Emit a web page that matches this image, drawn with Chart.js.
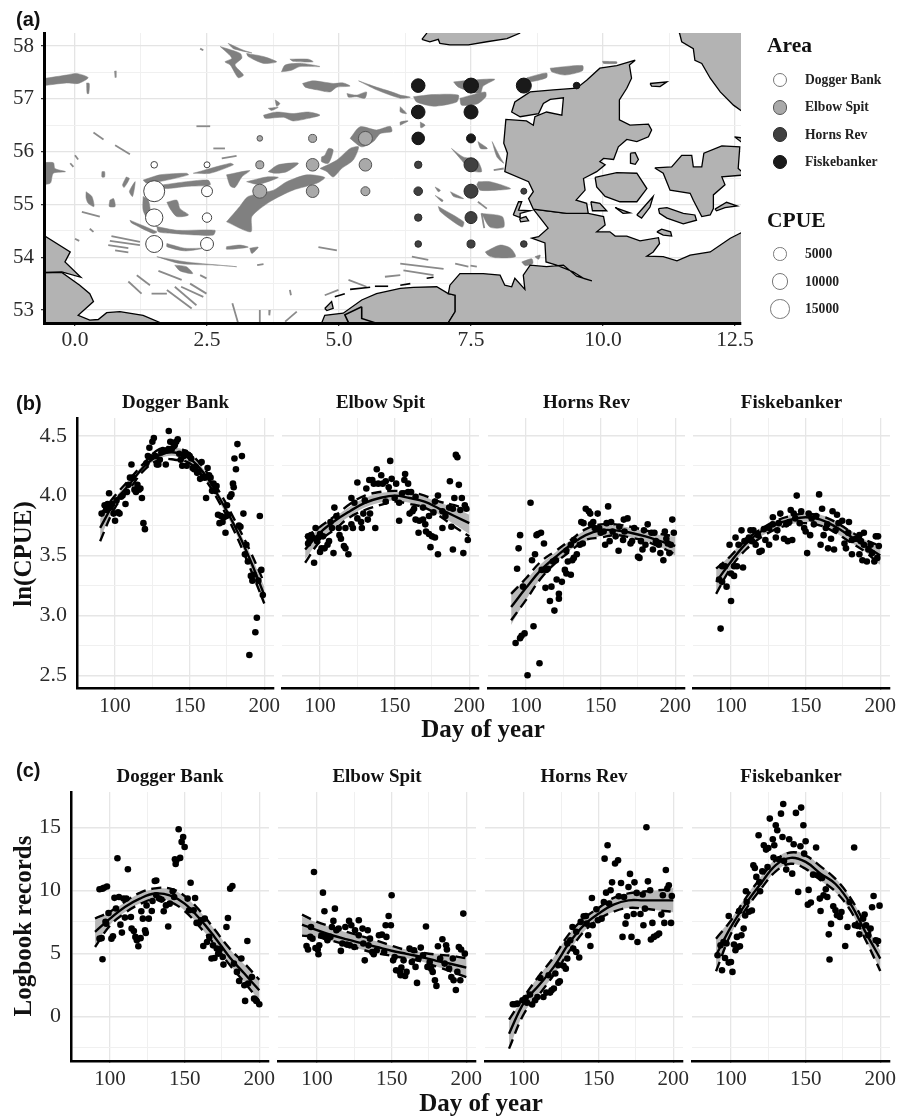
<!DOCTYPE html>
<html>
<head>
<meta charset="utf-8">
<title>CPUE by area</title>
<script src="https://cdn.jsdelivr.net/npm/chart.js@4"></script>
<style>
  html, body { margin: 0; background: #fff; }
  #page { position: relative; width: 914px; height: 1116px; overflow: hidden; }
  #page canvas { position: absolute; }
  .txt { position: absolute; white-space: nowrap; color: #111; font-family: "Liberation Serif", serif; font-weight: bold; transform: translate(-50%, -50%); }
  .tag { font-family: "Liberation Sans", sans-serif; font-size: 20px; transform: translateY(-50%); }
  .axis { font-size: 25px; }
  .ylab { transform: translate(-50%, -50%) rotate(-90deg); }
  .head { font-size: 21.5px; transform: translateY(-50%); }
  .item { font-size: 13.6px; color: #222; transform: translateY(-50%); }
  .dot { position: absolute; border-radius: 50%; box-sizing: border-box; }
</style>
</head>
<body>
<div id="page"></div>
<script>
// Categories and tick labels
const areas = ["Dogger Bank", "Elbow Spit", "Horns Rev", "Fiskebanker"];
const cpueLegend = [5000, 10000, 15000];
const lonTicks = [0, 2.5, 5, 7.5, 10, 12.5];
const lonMinor = [1.25, 3.75, 6.25, 8.75, 11.25];
const latTicks = [53, 54, 55, 56, 57, 58];
const latMinor = [53.5, 54.5, 55.5, 56.5, 57.5];
const dayTicks = [100, 150, 200];
const dayMinor = [125, 175];
const lnTicks = [2.5, 3, 3.5, 4, 4.5];
const lnMinor = [2.75, 3.25, 3.75, 4.25];
const logTicks = [0, 5, 10, 15];
const logMinor = [-2.5, 2.5, 7.5, 12.5];

// Survey sites on the map: lon, lat, CPUE
const doggerSites = [[1.5,55.75,146],[2.5,55.75,48],[1.5,55.25,18550],[2.5,55.25,2500],[1.5,54.75,11060],[2.5,54.75,1310],[1.5,54.25,10350],[2.5,54.25,4520]];
const elbowSites = [[3.5,56.25,12],[4.5,56.25,583],[5.5,56.25,5760],[3.5,55.75,583],[4.5,55.75,4070],[5.5,55.75,4070],[3.5,55.25,5760],[4.5,55.25,4070],[5.5,55.25,1070]];
const hornsSites = [[6.5,55.75,360],[7.5,55.75,5760],[6.5,55.25,860],[7.5,55.25,5760],[8.5,55.25,48],[6.5,54.75,360],[7.5,54.75,3440],[6.5,54.25,146],[7.5,54.25,583],[8.5,54.25,146]];
const fiskeSites = [[6.5,57.25,5240],[7.5,57.25,7140],[8.5,57.25,7140],[9.5,57.25,146],[6.5,56.75,5240],[7.5,56.75,5760],[6.5,56.25,4070],[7.5,56.25,1070]];

// Coastlines, lon/lat
const jutland = [[10.61,57.73],[10.50,57.64],[10.54,57.39],[10.45,57.20],[10.31,56.98],[10.31,56.60],[10.51,56.50],[10.86,56.52],[10.92,56.41],[10.86,56.28],[10.64,56.19],[10.45,56.23],[10.29,56.09],[10.20,55.85],[10.01,55.87],[9.94,55.81],[10.04,55.75],[9.88,55.62],[9.63,55.49],[9.66,55.27],[9.49,55.08],[9.69,55.02],[9.72,54.83],[9.31,54.83],[8.68,54.91],[8.59,55.11],[8.68,55.24],[8.59,55.43],[8.14,55.62],[8.19,55.97],[8.12,56.16],[8.16,56.61],[8.55,56.58],[8.68,56.50],[8.71,56.66],[8.93,56.75],[9.22,56.69],[9.25,57.02],[9.00,56.99],[8.87,56.91],[8.78,56.72],[8.43,56.66],[8.27,56.75],[8.33,56.94],[8.62,57.13],[9.06,57.17],[9.50,57.20],[9.69,57.35],[9.94,57.58],[10.26,57.63]];
const germany = [[8.68,54.91],[8.96,54.55],[8.78,54.39],[8.65,54.36],[8.90,54.27],[8.92,53.91],[9.12,53.85],[9.44,53.72],[9.63,53.60],[9.79,53.55],[9.50,53.64],[9.25,53.85],[8.93,53.82],[8.62,53.85],[8.49,53.66],[8.52,53.39],[8.33,53.60],[8.27,53.44],[8.14,53.47],[8.05,53.66],[7.73,53.69],[7.29,53.69],[7.10,53.47],[7.07,53.31],[7.20,53.28],[7.20,52.97],[7.07,52.76],[7.07,52.4],[13.5,52.4],[13.5,54.2],[12.61,54.46],[12.41,54.36],[12.03,54.10],[11.65,54.04],[11.40,53.93],[11.14,54.01],[10.83,54.02],[10.95,54.10],[11.07,54.26],[11.05,54.37],[10.70,54.31],[10.45,54.40],[10.23,54.40],[10.13,54.48],[9.88,54.48],[10.04,54.61],[10.01,54.77],[9.72,54.83],[9.31,54.83]];
const netherlands = [[7.07,53.31],[6.85,53.44],[6.41,53.43],[6.16,53.41],[5.71,53.31],[5.43,53.19],[5.08,52.94],[4.73,52.90],[4.67,52.75],[4.67,52.4],[7.07,52.4],[7.07,52.76],[7.20,52.97],[7.20,53.28]];
const englandNorth = [[-1,54.7],[-0.60,54.42],[-0.09,54.10],[-0.19,53.91],[0.11,53.62],[-0.25,53.72],[-0.60,53.71],[-1,53.71]];
const englandSouth = [[-1,53.71],[-0.25,53.71],[0.09,53.47],[0.28,53.31],[0.35,53.16],[0.06,52.90],[0.28,52.81],[0.44,52.82],[0.60,52.95],[0.85,52.97],[1.29,52.90],[1.64,52.75],[1.9,52.4],[-1,52.4]];
const norway = [[6.57,58.125],[6.66,58.24],[6.7,58.5],[8.6,58.5],[8.42,58.24],[8.18,58.14],[7.80,58.08],[7.45,58.02],[7.10,58.02],[6.91,58.05],[6.88,58.125],[6.72,58.08]];
const sweden = [[11.3,58.5],[11.45,58.24],[11.49,58.08],[11.71,57.95],[11.74,57.73],[11.87,57.67],[12.03,57.39],[12.22,57.13],[12.47,56.88],[12.61,56.78],[13.5,56.3],[13.5,58.5]];
const fyn = [[9.85,55.51],[10.26,55.60],[10.64,55.59],[10.83,55.30],[10.64,55.05],[10.32,55.05],[10.04,55.15],[9.88,55.33]];
const zealand = [[10.98,55.69],[11.30,55.71],[11.49,55.93],[11.68,55.93],[11.71,55.71],[11.87,55.71],[11.91,55.97],[12.25,56.11],[12.59,56.09],[12.56,55.68],[12.70,55.56],[12.25,55.52],[12.31,55.37],[12.09,55.18],[12.09,54.92],[12.03,54.80],[11.87,54.77],[11.71,55.08],[11.65,55.21],[11.27,55.27],[11.14,55.59]];
const kullen = [[12.49,56.28],[12.7,56.25],[12.7,56.12]];
const laeso = [[10.89,57.29],[11.21,57.32],[11.08,57.23],[10.92,57.24]];
const samso = [[10.52,55.97],[10.61,55.98],[10.67,55.85],[10.61,55.76],[10.52,55.78]];
const aero = [[9.77,55.05],[9.94,55.02],[10.07,54.88],[9.80,54.88]];
const taasinge = [[10.23,54.94],[10.51,54.84],[10.38,54.83]];
const langeland = [[10.64,54.80],[10.95,55.15],[10.89,54.95],[10.73,54.74]];
const lolland = [[11.05,54.92],[11.21,54.94],[11.52,54.83],[11.74,54.80],[11.77,54.70],[11.52,54.63],[11.21,54.74],[11.07,54.83]];
const fehmarn = [[11.02,54.48],[11.11,54.53],[11.28,54.48],[11.30,54.40],[11.14,54.42]];
const moen = [[12.12,54.91],[12.34,55.04],[12.54,54.97],[12.31,54.94],[12.15,54.88]];
const sylt = [[8.30,54.80],[8.40,55.05],[8.46,55.05],[8.40,54.89],[8.62,54.88],[8.43,54.83],[8.43,54.75]];
const foehr = [[8.42,54.73],[8.54,54.77],[8.59,54.69],[8.44,54.67]];
const texel = [[4.73,53.03],[4.86,53.16],[4.89,53.03],[4.77,52.99]];
const landParts = [jutland, germany, netherlands, englandNorth, englandSouth, norway, sweden, fyn, zealand, kullen, laeso, samso, aero, taasinge, langeland, lolland, fehmarn, moen, sylt, foehr, texel];

// Black lines: land borders and the Frisian islands
const blackLines = [
  [[5.43,53.06],[5.11,52.91],[5.18,52.76]],
  [[5.43,53.06],[5.43,52.84],[5.68,52.76]],
  [[4.92,53.25],[5.11,53.31]],
  [[5.21,53.39],[5.59,53.43]],
  [[5.68,53.45],[5.93,53.45]],
  [[6.16,53.47],[6.35,53.50]],
  [[6.66,53.60],[6.79,53.62]]
];

// Sand banks
const banks = [
  [[-0.8,57.35],[-0.16,57.45],[0.03,57.48],[0.25,57.40],[0.06,57.29],[-0.16,57.30],[-0.8,57.24]],
  [[0.22,57.30],[0.27,57.29],[0.26,57.10],[0.23,57.10]],
  [[-0.7,55.78],[-0.41,55.79],[-0.38,55.68],[-0.18,55.62],[-0.41,55.59],[-0.47,55.40],[-0.7,55.40]],
  [[2.90,58.05],[3.19,57.92],[3.35,57.87],[3.0,57.95]],
  [[3.25,57.86],[3.57,57.80],[3.82,57.70],[3.57,57.67],[3.28,57.80]],
  [[2.75,57.99],[3.13,57.86],[3.16,57.77],[3.03,57.64],[3.19,57.45],[3.09,57.40],[2.94,57.64],[2.84,57.70],[2.97,57.77]],
  [[3.91,57.51],[3.98,57.64],[4.29,57.67],[4.64,57.61],[4.26,57.61],[4.10,57.54]],
  [[4.07,57.75],[4.42,57.75],[4.51,57.70],[4.13,57.71]],
  [[4.31,57.29],[4.51,57.34],[4.89,57.29],[5.08,57.30],[5.21,57.24],[4.96,57.22],[4.83,57.13],[4.58,57.17],[4.36,57.22]],
  [[5.37,57.34],[5.65,57.24],[6.16,57.07],[6.16,57.01],[5.71,57.17]],
  [[5.15,57.10],[5.33,57.07],[5.52,57.13],[5.49,57.01],[5.33,57.04],[5.18,57.03]],
  [[3.57,56.69],[3.82,56.75],[4.13,56.72],[4.42,56.75],[4.64,56.69],[4.42,56.63],[4.13,56.58],[3.95,56.65],[3.60,56.63]],
  [[3.79,56.98],[3.88,56.91],[3.82,56.86]],
  [[3.66,56.82],[3.85,56.84],[3.72,56.78]],
  [[2.87,54.67],[3.12,54.96],[3.28,55.15],[3.76,55.27],[4.01,55.43],[4.39,55.56],[4.73,55.51],[4.58,55.40],[4.13,55.27],[3.69,55.05],[3.35,54.77],[3.33,54.48]],
  [[4.64,55.68],[4.96,55.84],[5.21,56.06],[5.37,56.09],[5.27,55.84],[5.05,55.68],[4.89,55.52],[4.77,55.62]],
  [[5.21,56.25],[5.40,56.47],[5.71,56.41],[5.97,56.48],[6.0,56.38],[5.78,56.34],[5.65,56.19],[5.43,56.09]],
  [[4.67,55.90],[4.73,55.93],[4.80,56.06],[4.89,56.03],[4.80,55.78],[4.67,55.81]],
  [[3.66,55.62],[3.85,55.75],[4.23,55.78],[4.01,55.62],[3.79,55.59]],
  [[2.87,55.56],[3.31,55.64],[3.16,55.52],[3.03,55.32],[2.94,55.35]],
  [[3.25,55.43],[3.63,55.52],[3.85,55.51],[3.47,55.38]],
  [[1.29,55.46],[1.61,55.56],[2.11,55.59],[2.15,55.56],[1.74,55.46],[1.36,55.40]],
  [[1.67,55.37],[2.11,55.43],[2.52,55.46],[2.56,55.37],[2.11,55.34],[1.70,55.30]],
  [[2.24,55.59],[2.94,55.78],[3.0,55.75],[2.56,55.59]],
  [[1.29,55.15],[1.39,55.08],[1.45,54.77],[1.55,54.58],[1.39,54.70],[1.29,54.89]],
  [[1.74,55.04],[1.93,55.08],[1.99,54.92],[2.15,54.80],[1.93,54.77],[1.80,54.92]],
  [[1.55,54.58],[1.93,54.51],[2.65,54.51],[2.62,54.42],[2.30,54.42],[1.86,54.45],[1.58,54.48]],
  [[1.04,54.70],[1.55,54.48],[1.48,54.45],[1.07,54.65]],
  [[1.74,54.26],[2.08,54.17],[2.43,54.17],[2.08,54.12],[1.74,54.20]],
  [[2.87,54.20],[3.12,54.23],[3.28,54.19],[2.87,54.15]],
  [[3.31,54.17],[3.47,54.19],[3.35,54.07]],
  [[1.55,54.01],[2.11,53.91],[3.06,53.82],[2.68,53.85],[1.99,53.88]],
  [[1.89,53.85],[2.11,53.82],[2.23,53.69],[1.99,53.74]],
  [[0.21,55.24],[0.32,55.15],[0.36,54.96],[0.25,55.02],[0.21,55.12]],
  [[0.66,55.08],[0.73,55.11],[0.76,54.96],[0.65,54.96]],
  [[0.97,55.52],[1.03,55.49],[0.93,55.32],[0.90,55.37]],
  [[1.07,55.33],[1.14,55.43],[1.09,55.15],[1.03,55.24]],
  [[0.51,55.62],[0.56,55.62],[0.56,55.52],[0.51,55.52]],
  [[7.17,57.32],[7.48,57.35],[7.95,57.37],[7.73,57.24],[7.67,57.10],[7.26,57.22]],
  [[6.41,57.04],[6.79,57.08],[7.26,57.07],[7.23,56.94],[6.79,56.86],[6.47,56.94]],
  [[7.29,57.01],[7.77,57.13],[7.78,57.04],[7.61,56.90],[7.32,56.88]],
  [[8.56,57.40],[8.93,57.49],[8.93,57.40],[8.59,57.32]],
  [[9.0,57.58],[9.61,57.63],[9.61,57.53],[9.28,57.45],[9.03,57.51]],
  [[9.99,57.71],[10.26,57.70],[10.26,57.67],[10.01,57.67]],
  [[6.16,57.07],[6.35,57.03],[6.16,57.01]],
  [[6.16,56.85],[6.28,56.72],[6.16,56.75]],
  [[6.16,56.50],[6.31,56.58],[6.16,56.56]],
  [[6.54,56.56],[6.63,56.50],[6.55,56.45]],
  [[7.13,56.06],[7.35,55.90],[7.61,55.84],[7.70,55.62],[7.48,55.65],[7.32,55.84]],
  [[7.63,56.19],[7.81,56.06],[7.68,56.06]],
  [[7.90,56.19],[8.05,55.90],[8.12,55.78],[7.99,55.90]],
  [[7.64,55.43],[7.86,55.43],[8.25,55.30],[7.99,55.27],[7.67,55.27],[7.61,55.37]],
  [[6.82,55.33],[6.92,55.27],[6.88,55.24]],
  [[7.11,55.24],[7.36,55.11],[7.17,55.15]],
  [[6.82,55.17],[6.97,55.08],[6.95,55.05]],
  [[6.88,54.96],[7.36,54.67],[7.33,54.57],[6.92,54.86]],
  [[7.70,54.83],[8.09,54.77],[8.12,54.57],[7.86,54.57]],
  [[7.77,54.10],[8.05,54.23],[8.25,54.17],[8.34,54.01],[7.96,53.99],[7.83,54.03]],
  [[8.46,53.91],[8.65,53.97],[8.67,53.88],[8.53,53.84]],
  [[8.71,54.01],[8.81,54.04],[8.78,53.96]]
];

// Narrow sand ridges
const bankLines = [
  [[0.35,56.36],[0.54,56.23]],[[0.76,56.12],[1.04,55.95]],[[0.0,55.93],[0.06,55.85]],[[-0.09,55.78],[-0.03,55.71]],
  [[2.30,56.48],[2.56,56.48]],[[2.62,56.06],[2.84,56.06]],[[2.78,55.87],[3.06,55.92]],[[2.37,57.95],[2.43,57.92]],
  [[0.76,57.53],[0.77,57.40]],[[0.13,54.86],[0.47,54.77]],[[0.28,54.54],[0.35,54.48]],[[0.0,54.35],[0.08,54.31]],
  [[0.69,54.40],[1.23,54.29]],[[0.66,54.31],[1.23,54.23]],[[0.63,54.23],[1.01,54.17]],[[0.76,54.13],[1.01,54.09]],
  [[4.61,54.19],[4.96,54.13]],[[3.45,53.85],[3.57,53.87]],[[1.01,53.54],[1.26,53.31]],[[1.17,53.66],[1.42,53.47]],
  [[1.45,53.31],[1.74,53.31]],[[1.58,53.74],[2.02,53.57]],[[1.74,53.38],[2.21,53.03]],[[1.89,53.44],[2.30,53.09]],
  [[2.01,53.44],[2.43,53.25]],[[2.37,53.66],[2.49,53.60]],[[2.18,53.50],[2.49,53.31]],[[2.98,53.13],[3.09,52.75]],
  [[3.50,53.0],[3.50,52.75]],[[3.69,53.0],[3.68,52.9]],[[3.98,52.78],[4.2,52.97]],[[4.07,53.38],[4.09,53.28]],
  [[4.73,53.28],[4.99,53.38]],[[5.18,53.57],[5.52,53.44]],[[5.87,53.63],[6.16,53.66]],[[6.38,54.01],[6.69,53.95]],
  [[6.16,53.88],[6.98,53.78]],[[6.22,53.75],[6.79,53.66]],[[7.20,53.88],[7.45,53.82]],[[7.49,53.84],[7.61,53.82]],
  [[7.93,55.65],[8.12,55.68]],[[7.63,55.05],[7.80,54.92]],[[7.70,54.83],[7.75,54.55]]
];

// ln(CPUE) points: day, value
const lnDogger = [[91,3.85],[93,3.92],[94,3.88],[95,3.93],[96,4.02],[97,3.90],[98,3.93],[99,3.85],[100,3.79],[101,3.96],[102,3.86],[103,3.85],[104,3.99],[105,4.00],[107,3.93],[108,4.03],[109,4.09],[110,4.15],[111,4.26],[112,4.15],[113,4.05],[114,4.03],[115,4.09],[116,4.05],[117,4.06],[118,3.98],[119,3.77],[120,3.72],[121,4.27],[122,4.33],[123,4.40],[124,4.32],[125,4.45],[126,4.48],[127,4.33],[128,4.26],[129,4.26],[130,4.30],[131,4.36],[132,4.38],[133,4.37],[134,4.26],[135,4.38],[136,4.54],[137,4.45],[138,4.39],[139,4.44],[140,4.42],[141,4.45],[142,4.47],[143,4.35],[144,4.30],[145,4.25],[146,4.33],[147,4.36],[148,4.25],[149,4.34],[150,4.33],[151,4.31],[152,4.23],[153,4.22],[154,4.24],[155,4.19],[156,4.20],[157,4.14],[158,4.28],[159,4.16],[160,4.15],[161,3.98],[162,4.23],[163,4.17],[164,4.15],[165,4.04],[166,4.10],[167,4.04],[168,4.08],[169,3.84],[170,3.77],[171,3.83],[172,3.78],[173,3.82],[174,3.69],[175,3.92],[176,3.84],[177,3.99],[178,4.01],[179,4.10],[179.5,4.07],[180,4.31],[181,4.22],[182,4.43],[183,3.75],[184,3.74],[185,4.33],[186,3.85],[187,3.51],[188,3.59],[189,3.45],[190,2.67],[191,3.33],[192,3.29],[193,3.34],[194,2.86],[195,2.98],[196,3.29],[197,3.83],[198,3.38],[199,3.17]];
const lnElbow = [[92,3.66],[92,3.60],[93,3.63],[94,3.67],[95,3.65],[96,3.44],[97,3.73],[98,3.62],[99,3.65],[100,3.68],[100,3.53],[101,3.56],[102,3.66],[103,3.56],[105,3.59],[106,3.62],[107,3.78],[108,3.73],[109,3.52],[109.6,3.90],[111,3.83],[112.5,3.73],[113,3.67],[114,3.64],[116,3.58],[117,3.56],[117,3.73],[119,3.51],[121,3.76],[122,3.73],[121,3.98],[123,3.94],[125,4.11],[125,3.81],[127.5,3.78],[128,3.73],[129,3.85],[131,4.06],[132,3.80],[130,3.96],[133.5,3.85],[133,4.13],[135,4.13],[137,3.73],[136,4.10],[138,4.22],[139,4.10],[141,4.17],[142,4.10],[144,4.12],[144,3.95],[147,4.29],[148,4.14],[146,4.07],[151,4.10],[150,3.98],[153,3.79],[153,3.94],[157,4.18],[156.5,4.13],[159,4.10],[155,4.02],[159,4.03],[161,4.03],[160,3.85],[163,3.89],[162,3.87],[164,3.99],[164,3.80],[166,3.69],[166.5,3.79],[169,3.80],[170.5,3.76],[169,3.90],[171,3.70],[173,3.68],[175,3.66],[177,3.65],[174,3.57],[173,3.83],[176,3.86],[179,3.51],[179,4.0],[177,3.95],[182,3.73],[182,3.87],[184,3.83],[187,4.12],[188,3.74],[186.5,3.90],[189,3.55],[189,3.89],[190,3.98],[191,4.34],[192,4.32],[193,4.09],[195,3.98],[194,3.88],[196,3.52],[197,3.92],[198,3.89],[199,3.63]];
const lnHorns = [[93,2.77],[96,2.81],[97,2.83],[99,2.85],[105,2.91],[101,2.50],[109,2.60],[94,3.39],[95,3.56],[96,3.67],[98,3.24],[103,3.94],[107,3.67],[108,3.68],[110,3.69],[112,3.60],[106,3.51],[104,3.46],[110.5,3.38],[113,3.23],[117,3.24],[116,3.12],[119,3.04],[122,3.14],[122,3.18],[120.5,3.30],[124,3.28],[114.5,3.39],[113.5,3.38],[118,3.45],[120,3.46],[126,3.38],[127,3.35],[130,3.34],[128,3.45],[131,3.46],[132,3.48],[134,3.51],[127,3.54],[130,3.59],[132,3.63],[136,3.59],[138,3.60],[137,3.78],[138.5,3.77],[140,3.89],[142,3.87],[143,3.85],[145,3.78],[143.5,3.76],[146,3.73],[148,3.85],[149,3.73],[150,3.69],[152,3.70],[153,3.59],[155,3.91],[156,3.62],[154,3.77],[157,3.78],[158,3.70],[160,3.66],[162,3.54],[162.5,3.74],[165,3.63],[165.5,3.80],[168,3.81],[166,3.70],[170,3.60],[171,3.62],[172.5,3.73],[175,3.49],[176,3.48],[177,3.62],[178,3.55],[180,3.59],[179,3.71],[181.5,3.76],[185,3.55],[184,3.69],[186,3.69],[187,3.62],[189,3.59],[190,3.52],[192,3.46],[193,3.70],[194,3.64],[195,3.60],[196,3.52],[197,3.59],[198,3.80],[199,3.69]];
const lnFiske = [[93,2.89],[100,3.12],[97,3.24],[94,3.28],[92,3.30],[94,3.41],[96,3.41],[99,3.59],[103,3.65],[107,3.71],[102,3.33],[100,3.35],[102,3.41],[104,3.41],[108,3.40],[105,3.59],[109,3.62],[111,3.63],[113,3.71],[115,3.71],[112,3.65],[114,3.62],[116.5,3.59],[119,3.53],[120.5,3.54],[118,3.67],[122,3.72],[123,3.63],[125.5,3.59],[125.5,3.73],[128,3.82],[128,3.76],[130,3.65],[131,3.71],[133,3.85],[132,3.77],[135.5,3.64],[138,3.62],[137,3.76],[139,3.78],[141,3.63],[140,3.88],[142,3.85],[144,4.00],[143,3.81],[147,3.87],[146,3.77],[149,3.73],[150,3.70],[151,3.52],[153,3.67],[152,3.85],[154,3.81],[155.5,3.76],[157,3.83],[159,4.01],[161,3.89],[160,3.59],[162,3.67],[163.5,3.73],[164.5,3.76],[165,3.56],[167,3.64],[169,3.55],[168,3.87],[171,3.84],[170,3.71],[172,3.77],[174.5,3.79],[176,3.60],[177,3.56],[179,3.78],[178.5,3.69],[181,3.51],[181,3.63],[183.5,3.64],[186,3.67],[186,3.51],[187,3.62],[189,3.69],[188,3.46],[189,3.59],[191,3.45],[192,3.55],[193.5,3.59],[194.5,3.52],[196,3.45],[197,3.66],[198,3.48],[198.5,3.66],[199,3.58]];

// Logbook records points: day, value
const logDogger = [[93,10.08],[95,10.13],[96,10.2],[98,10.3],[95,4.52],[93,6.16],[94.4,6.2],[97,7.5],[99,8.2],[97.5,7.35],[101,6.16],[102,6.35],[103,9.4],[104,8.55],[105,12.54],[106,9.47],[107,7.27],[108,6.64],[109,9.34],[111,9.34],[110,7.83],[112,11.67],[114,7.88],[114.5,6.96],[116,6.77],[117,6.3],[118,6.03],[119,5.56],[120.5,6.2],[121,8.33],[122,7.75],[123.5,6.83],[124,6.61],[126,7.75],[124.5,8.8],[128,8.36],[130,10.74],[131,10.77],[128.5,9.15],[131,9.6],[133,9.34],[134.5,9.26],[136,8.33],[137.5,8.8],[139,7.12],[140,8.94],[142,9.92],[143,9.47],[143.5,12.46],[144.5,12.38],[144,12.09],[146,14.84],[147,12.57],[149,14.23],[148,13.84],[150,13.44],[152,9.34],[153,8.41],[154,10.6],[156,8.41],[157,9.39],[158,7.41],[159.5,7.41],[161,7.62],[162.5,5.58],[163.5,7.75],[165,5.9],[166.5,6.3],[168,4.58],[169,5.63],[170,4.63],[171.5,5.37],[172.5,4.97],[173.5,5.32],[175.5,4.71],[176,4.1],[178,7.09],[179,7.8],[180.5,10.13],[182,10.34],[183,4.18],[185,3.52],[186.5,2.8],[188,4.58],[190,2.46],[190.5,1.22],[192,5.98],[195,3.12],[196.5,1.4],[198,1.22],[200,0.95],[192.5,2.6]];
const logElbow = [[98,11.45],[104,9.81],[105,8.33],[112,8.54],[111,7.57],[93,5.58],[94,5.3],[95.5,6.3],[97,6.16],[96,7.09],[99,5.42],[100.5,5.3],[101.5,5.63],[101,4.92],[103,6.43],[105.5,6.3],[107,6.03],[109,6.3],[110,7.09],[113,6.83],[114.5,6.96],[116,5.19],[117,5.77],[119,7.09],[120,5.69],[121.5,7.57],[122,5.63],[123,7.22],[125,5.5],[125.5,6.83],[128,7.62],[128,6.43],[130.5,6.96],[131,5.77],[132,4.44],[134,6.83],[134.5,5.63],[135.5,6.16],[137,5.1],[138,4.92],[140,5.24],[141.5,6.43],[143.5,6.48],[145,5.1],[146.5,6.3],[146,7.22],[148,7.96],[149.5,7.22],[150,9.6],[151,4.44],[152,4.71],[153,3.65],[155.5,3.52],[156.5,3.86],[156,3.25],[158,4.44],[159,3.2],[160,3.52],[162,5.37],[163.5,4.31],[165,5.24],[166,3.92],[167,2.65],[168,4.58],[169.5,5.45],[171,4.84],[173,7.12],[174,3.92],[175.5,4.31],[176.5,3.78],[177.5,3.52],[179,2.86],[180,2.41],[181,5.56],[182.5,4.58],[184,6.11],[185.5,4.18],[186.5,5.63],[187,5.3],[188.5,3.78],[190,3.12],[191.5,2.86],[191,4.58],[193,2.09],[194,3.52],[195,5.5],[196,2.86],[196.5,5.3],[198,8.15],[199,4.97]];
const logHorns = [[92.5,0.95],[94,0.95],[95.5,1.0],[99,1.27],[101,1.45],[102,1.08],[104,1.72],[105.5,0.93],[107.5,1.27],[109,1.53],[111,3.04],[113,1.53],[115,1.88],[116.5,3.25],[117.5,1.88],[118.5,2.06],[120,2.2],[121,3.39],[123,2.67],[124,2.78],[123,4.05],[126.5,4.0],[128,3.78],[129,4.58],[129,5.77],[131,6.03],[132.5,7.09],[133,5.37],[135,6.7],[135,5.1],[137,4.66],[138,7.49],[140,7.94],[141.5,7.96],[143,6.43],[142,7.35],[144.5,5.58],[145.5,9.39],[146,7.22],[148.5,8.49],[149.5,7.62],[152,7.75],[153.5,9.07],[154,12.51],[155,9.81],[156,13.57],[157,8.94],[158,10.0],[159,10.63],[161,12.12],[163,12.38],[163.5,9.52],[165,10.58],[166,6.3],[167,9.47],[168,7.35],[169,7.94],[171,11.3],[170,10.26],[172,6.3],[173.5,8.12],[174,10.63],[176,5.9],[175.5,9.79],[178,8.12],[179.5,9.66],[180,7.22],[181,8.54],[182,15.0],[183,10.71],[184.5,10.0],[185,6.09],[186,7.41],[187,6.3],[189,6.43],[190.5,6.56],[192,8.07],[193,9.6],[194,7.41],[195,11.61],[196,10.13],[197,10.4],[198.5,7.41],[199,9.55]];
const logFiske = [[101,3.52],[94,3.65],[91,4.84],[96,4.63],[100,4.31],[98.5,4.26],[93,5.63],[95,5.9],[97,5.77],[98.5,7.96],[102,5.69],[103,5.24],[104.5,5.5],[106,5.56],[104,6.3],[107,6.43],[108.5,6.96],[105.5,8.36],[109.5,8.0],[110.5,9.07],[110,9.92],[112,8.3],[114,8.4],[115,11.98],[116,11.77],[117,11.06],[119,10.66],[118.5,14.37],[119.5,9.92],[121,11.5],[122,13.57],[123.5,13.23],[125,13.36],[124.5,11.85],[126,15.69],[128,14.05],[128.5,12.6],[129,13.57],[130,15.16],[131,14.76],[132,12.46],[133.5,16.08],[134.5,14.23],[135,16.85],[135.5,12.33],[137,11.64],[139,14.05],[141,11.32],[142,13.65],[143.5,16.14],[145,9.87],[146.5,13.49],[147,16.56],[148.5,15.16],[150,13.89],[149,12.91],[152,10.03],[153.5,9.02],[151.5,8.86],[155,11.24],[157,13.39],[158,11.19],[159.5,9.34],[160,8.36],[161,10.98],[162,9.6],[163.5,10.08],[164.5,9.47],[165.5,6.5],[166,4.5],[167,7.33],[168.5,8.73],[170,8.41],[171,8.02],[173,7.88],[174,8.28],[176.5,5.58],[178,7.09],[179.5,9.07],[182.5,13.39],[183,7.22],[185,7.17],[186,6.5],[188.5,7.75],[189.5,8.07],[190.5,7.22],[192,6.43],[193.5,6.96],[194.5,8.65],[195.5,9.55],[197,6.03],[198.5,5.98],[199.5,8.78]];

// Fitted curves, all read at the same days
const curveDays = [90, 100, 110, 120, 130, 140, 150, 160, 170, 180, 190, 200];

const lnDoggerFit = [3.73,3.95,4.10,4.25,4.34,4.36,4.31,4.18,3.98,3.75,3.48,3.17];
const lnDoggerHi = [3.84,4.00,4.14,4.28,4.39,4.40,4.35,4.22,4.03,3.80,3.55,3.27];
const lnDoggerLo = [3.62,3.90,4.06,4.22,4.30,4.30,4.27,4.14,3.94,3.70,3.41,3.10];
const lnDoggerBandHi = [3.81,3.98,4.13,4.27,4.37,4.40,4.35,4.21,4.01,3.78,3.53,3.24];
const lnDoggerBandLo = [3.64,3.91,4.07,4.23,4.31,4.33,4.27,4.14,3.94,3.71,3.43,3.10];

const lnElbowFit = [3.55,3.69,3.79,3.87,3.94,3.98,4.00,3.98,3.95,3.89,3.83,3.77];
const lnElbowHi = [3.65,3.74,3.83,3.93,4.00,4.03,4.04,4.03,4.00,3.95,3.92,3.88];
const lnElbowLo = [3.44,3.62,3.72,3.82,3.88,3.92,3.95,3.93,3.90,3.83,3.74,3.66];
const lnElbowBandHi = [3.62,3.73,3.82,3.91,3.98,4.02,4.03,4.02,3.99,3.94,3.90,3.84];
const lnElbowBandLo = [3.47,3.63,3.74,3.83,3.90,3.94,3.96,3.94,3.90,3.84,3.76,3.68];

const lnHornsFit = [3.07,3.23,3.38,3.49,3.59,3.67,3.71,3.71,3.69,3.66,3.62,3.58];
const lnHornsHi = [3.18,3.31,3.45,3.54,3.63,3.72,3.76,3.76,3.74,3.71,3.68,3.66];
const lnHornsLo = [2.96,3.13,3.31,3.44,3.54,3.63,3.65,3.67,3.65,3.62,3.57,3.51];
const lnHornsBandHi = [3.20,3.30,3.43,3.53,3.63,3.71,3.75,3.75,3.73,3.70,3.67,3.66];
const lnHornsBandLo = [2.92,3.13,3.31,3.44,3.55,3.62,3.66,3.67,3.65,3.62,3.57,3.50];

const lnFiskeFit = [3.28,3.45,3.60,3.70,3.76,3.80,3.82,3.80,3.74,3.66,3.58,3.50];
const lnFiskeHi = [3.39,3.50,3.63,3.72,3.79,3.83,3.85,3.83,3.78,3.70,3.63,3.58];
const lnFiskeLo = [3.18,3.40,3.55,3.65,3.72,3.76,3.77,3.75,3.69,3.61,3.53,3.42];
const lnFiskeBandHi = [3.38,3.51,3.64,3.73,3.79,3.84,3.86,3.84,3.79,3.71,3.63,3.57];
const lnFiskeBandLo = [3.18,3.39,3.56,3.66,3.72,3.76,3.78,3.76,3.69,3.61,3.53,3.42];

const logDoggerFit = [6.7,7.75,8.68,9.34,9.74,9.6,8.94,7.75,6.3,4.71,3.39,2.06];
const logDoggerHi = [7.75,8.3,9.1,9.8,10.15,10.15,9.55,8.4,6.9,5.4,4.2,2.9];
const logDoggerLo = [5.5,7.2,8.2,8.9,9.3,9.1,8.35,7.1,5.7,4.1,2.7,1.2];
const logDoggerBandHi = [7.6,8.25,9.05,9.75,10.1,10.1,9.5,8.35,6.9,5.35,4.1,2.85];
const logDoggerBandLo = [5.7,7.25,8.25,8.95,9.35,9.15,8.4,7.15,5.7,4.1,2.7,1.25];

const logElbowFit = [7.27,6.83,6.43,6.1,5.8,5.5,5.2,4.95,4.7,4.4,4.15,3.86];
const logElbowHi = [8.07,7.49,7.1,6.7,6.35,6.0,5.6,5.25,5.05,4.9,4.8,4.6];
const logElbowLo = [6.4,6.3,6.0,5.65,5.3,5.0,4.8,4.6,4.35,3.95,3.55,3.1];
const logElbowBandHi = [7.9,7.45,7.05,6.65,6.3,5.95,5.6,5.3,5.1,4.95,4.85,4.7];
const logElbowBandLo = [6.35,6.25,5.95,5.6,5.3,5.0,4.8,4.6,4.35,3.95,3.55,3.05];

const logHornsFit = [-1.38,1.08,2.46,3.92,5.77,7.22,8.15,8.86,9.2,9.2,9.2,9.2];
const logHornsHi = [-0.26,1.55,3.2,4.7,6.5,7.75,8.6,9.4,9.75,9.9,10.0,10.1];
const logHornsLo = [-2.57,0.2,1.7,3.3,5.1,6.7,7.7,8.3,8.6,8.55,8.4,8.3];
const logHornsBandHi = [-0.4,1.6,3.2,4.7,6.5,7.8,8.65,9.4,9.75,9.9,10.0,10.2];
const logHornsBandLo = [-2.6,0.25,1.75,3.3,5.1,6.7,7.7,8.3,8.6,8.55,8.4,8.25];

const logFiskeFit = [4.84,7.09,8.94,10.53,12.0,12.57,12.25,11.32,10.5,8.94,6.7,4.58];
const logFiskeHi = [6.16,7.6,9.4,11.0,12.4,13.0,12.75,11.9,10.9,9.4,7.3,5.3];
const logFiskeLo = [3.57,6.55,8.5,10.1,11.5,12.1,11.7,10.8,9.9,8.4,6.1,3.6];
const logFiskeBandHi = [6.3,7.7,9.5,11.1,12.5,13.1,12.8,11.95,10.95,9.4,7.35,5.2];
const logFiskeBandLo = [3.6,6.5,8.45,10.05,11.5,12.1,11.7,10.75,9.85,8.35,6.1,3.7];

const page = document.getElementById("page");
const INK = "#2b2b2b";
const FONT = "'Liberation Serif', serif";

function addCanvas(left, top, width, height) {
  const c = document.createElement("canvas");
  c.width = width;
  c.height = height;
  c.style.left = left + "px";
  c.style.top = top + "px";
  c.style.width = width + "px";
  c.style.height = height + "px";
  page.appendChild(c);
  return c.getContext("2d");
}

function addText(text, cls, x, y) {
  const d = document.createElement("div");
  d.className = "txt " + cls;
  d.textContent = text;
  d.style.left = x + "px";
  d.style.top = y + "px";
  page.appendChild(d);
}

function toXY(pairs) {
  return pairs.map((p) => ({ x: p[0], y: p[1] }));
}

function curve(values) {
  return curveDays.map((d, i) => ({ x: d, y: values[i] }));
}

// Scale with major (labelled) and minor ticks placed by hand
function scaleFor(opts) {
  const all = opts.major.concat(opts.minor).sort((a, b) => a - b);
  const isMajor = (ctx) => ctx.tick && opts.major.includes(ctx.tick.value);
  return {
    type: "linear",
    min: opts.min,
    max: opts.max,
    afterBuildTicks: (s) => { s.ticks = all.map((v) => ({ value: v })); },
    afterFit: (s) => { if (opts.width !== undefined) s.width = opts.width; if (opts.height !== undefined) s.height = opts.height; },
    border: { display: opts.line, color: "#000", width: opts.lineWidth, z: 1 },
    grid: {
      color: (ctx) => (isMajor(ctx) ? opts.majorColor : "#f0f0f0"),
      lineWidth: (ctx) => (isMajor(ctx) ? opts.majorWidth : 1),
      tickColor: (ctx) => (isMajor(ctx) ? "#333" : "rgba(0,0,0,0)"),
      tickLength: opts.tickLength || 0
    },
    ticks: {
      display: opts.labels,
      autoSkip: false,
      maxRotation: 0,
      color: INK,
      padding: opts.padding,
      font: { family: FONT, size: opts.size },
      callback: (v) => (opts.major.includes(v) ? opts.format(v) : "")
    }
  };
}

// Panel (a): the map
function polygonDataset(pts, color, border, width, order, tension) {
  const closed = pts.concat([pts[0]]);
  return {
    data: toXY(closed), showLine: true, fill: "shape", backgroundColor: color,
    borderColor: border, borderWidth: width, pointRadius: 0, tension: tension, order: order
  };
}

function lineDataset(pts, color, width, order) {
  return { data: toXY(pts), showLine: true, fill: false, borderColor: color, borderWidth: width, pointRadius: 0, tension: 0, order: order };
}

function radiusFor(cpue) {
  return 2.6 + 0.058 * Math.sqrt(cpue);
}

function sitesDataset(sites, fillColor, strokeColor) {
  return {
    data: sites.map((s) => ({ x: s[0], y: s[1], cpue: s[2] })),
    showLine: false,
    backgroundColor: fillColor,
    borderColor: strokeColor,
    borderWidth: 1,
    pointRadius: (ctx) => radiusFor(ctx.raw.cpue),
    order: 0
  };
}

const siteColors = [["#ffffff", "#444"], ["#a9a9a9", "#555"], ["#404040", "#2a2a2a"], ["#1a1a1a", "#111"]];

new Chart(addCanvas(0, 0, 800, 370), {
  type: "scatter",
  data: {
    datasets: [
      sitesDataset(doggerSites, siteColors[0][0], siteColors[0][1]),
      sitesDataset(elbowSites, siteColors[1][0], siteColors[1][1]),
      sitesDataset(hornsSites, siteColors[2][0], siteColors[2][1]),
      sitesDataset(fiskeSites, siteColors[3][0], siteColors[3][1])
    ]
      .concat(blackLines.map((l) => lineDataset(l, "#000", 1.6, 1)))
      .concat(landParts.map((p) => polygonDataset(p, "#b3b3b3", "#000", 1.3, 2, 0)))
      .concat(banks.map((p) => polygonDataset(p, "#808080", "#808080", 0.5, 3, 0.25)))
      .concat(bankLines.map((l) => lineDataset(l, "#8a8a8a", 1.8, 3)))
  },
  options: {
    responsive: false,
    animation: false,
    events: [],
    layout: { padding: { top: 33, right: 59 } },
    plugins: { legend: { display: false }, tooltip: { enabled: false } },
    scales: {
      x: scaleFor({ min: -0.587, max: 12.613, major: lonTicks, minor: lonMinor, height: 47, line: true, lineWidth: 3, majorColor: "#e4e4e4", majorWidth: 1.3, labels: true, size: 21.5, padding: 1, tickLength: 3, format: (v) => v.toFixed(1) }),
      y: scaleFor({ min: 52.754, max: 58.246, major: latTicks, minor: latMinor, width: 44, line: true, lineWidth: 3, majorColor: "#e4e4e4", majorWidth: 1.3, labels: true, size: 21, padding: 7, tickLength: 3, format: (v) => String(v) })
    }
  }
});

// Panels (b) and (c): one chart per area
function makePanel(p) {
  const padL = 60, padR = 25, titleH = 26, axisH = 50;
  const w = p.right - p.left;
  const h = p.bottom - p.top;
  new Chart(addCanvas(p.left - padL, p.top - titleH, padL + w + padR, titleH + h + axisH), {
    type: "scatter",
    data: {
      datasets: [
        { data: curve(p.fit), showLine: true, borderColor: "#000", borderWidth: 2.4, pointRadius: 0, tension: 0.4, order: 0 },
        { data: curve(p.hi), showLine: true, borderColor: "#000", borderWidth: 2.4, borderDash: [10, 6], pointRadius: 0, tension: 0.4, order: 1 },
        { data: curve(p.lo), showLine: true, borderColor: "#000", borderWidth: 2.4, borderDash: [10, 6], pointRadius: 0, tension: 0.4, order: 1 },
        { data: toXY(p.points), backgroundColor: "#000", borderWidth: 0, pointRadius: 3.3, order: 2 },
        { data: curve(p.bandHi), showLine: true, borderWidth: 0, pointRadius: 0, tension: 0.4, fill: "+1", backgroundColor: "#b9b9b9", order: 3 },
        { data: curve(p.bandLo), showLine: true, borderWidth: 0, pointRadius: 0, tension: 0.4, fill: false, order: 3 }
      ]
    },
    options: {
      responsive: false,
      animation: false,
      events: [],
      layout: { padding: { right: padR } },
      plugins: {
        legend: { display: false },
        tooltip: { enabled: false },
        title: { display: true, text: p.title, fullSize: false, color: "#111", font: { family: FONT, size: 19, weight: "bold", lineHeight: 1.2 }, padding: { top: 0, bottom: 3.2 } }
      },
      scales: {
        x: scaleFor({ min: p.xMin, max: 206.5, major: dayTicks, minor: dayMinor, height: axisH, line: true, lineWidth: 2.5, majorColor: "#e6e6e6", majorWidth: 1.3, labels: true, size: 21, padding: 6, format: (v) => String(v) }),
        y: scaleFor({ min: p.yMin, max: p.yMax, major: p.yMajor, minor: p.yMinor, width: padL, line: p.first, lineWidth: 2.5, majorColor: "#e6e6e6", majorWidth: 1.5, labels: p.first, size: 22, padding: 10, format: p.yFormat })
      }
    }
  });
}

const lnPanels = [
  [lnDogger, lnDoggerFit, lnDoggerHi, lnDoggerLo, lnDoggerBandHi, lnDoggerBandLo],
  [lnElbow, lnElbowFit, lnElbowHi, lnElbowLo, lnElbowBandHi, lnElbowBandLo],
  [lnHorns, lnHornsFit, lnHornsHi, lnHornsLo, lnHornsBandHi, lnHornsBandLo],
  [lnFiske, lnFiskeFit, lnFiskeHi, lnFiskeLo, lnFiskeBandHi, lnFiskeBandLo]
];
const logPanels = [
  [logDogger, logDoggerFit, logDoggerHi, logDoggerLo, logDoggerBandHi, logDoggerBandLo],
  [logElbow, logElbowFit, logElbowHi, logElbowLo, logElbowBandHi, logElbowBandLo],
  [logHorns, logHornsFit, logHornsHi, logHornsLo, logHornsBandHi, logHornsBandLo],
  [logFiske, logFiskeFit, logFiskeHi, logFiskeLo, logFiskeBandHi, logFiskeBandLo]
];

const lnLefts = [77, 282, 488, 693];
const logLefts = [71, 278, 485, 692];

lnPanels.forEach((d, i) => {
  makePanel({
    title: areas[i], first: i === 0, left: lnLefts[i], right: lnLefts[i] + 197, top: 418, bottom: 688,
    xMin: 74.5, yMin: 2.394, yMax: 4.648, yMajor: lnTicks, yMinor: lnMinor, yFormat: (v) => v.toFixed(1),
    points: d[0], fit: d[1], hi: d[2], lo: d[3], bandHi: d[4], bandLo: d[5]
  });
});

logPanels.forEach((d, i) => {
  makePanel({
    title: areas[i], first: i === 0, left: logLefts[i], right: logLefts[i] + 198, top: 792, bottom: 1061,
    xMin: 73.9, yMin: -3.55, yMax: 17.8, yMajor: logTicks, yMinor: logMinor, yFormat: (v) => String(v),
    points: d[0], fit: d[1], hi: d[2], lo: d[3], bandHi: d[4], bandLo: d[5]
  });
});

// Panel tags and shared axis labels
addText("(a)", "tag", 16, 19);
addText("(b)", "tag", 16, 403);
addText("(c)", "tag", 16, 770);
addText("ln(CPUE)", "axis ylab", 23, 554);
addText("Logbook records", "axis ylab", 23, 926);
addText("Day of year", "axis", 483, 729);
addText("Day of year", "axis", 481, 1103);

// Map legend
addText("Area", "head", 767, 45);
addText("CPUE", "head", 767, 220);

function addDot(cx, cy, r, fillColor, strokeColor) {
  const d = document.createElement("div");
  d.className = "dot";
  d.style.left = (cx - r) + "px";
  d.style.top = (cy - r) + "px";
  d.style.width = (2 * r) + "px";
  d.style.height = (2 * r) + "px";
  d.style.background = fillColor;
  d.style.border = "1px solid " + strokeColor;
  page.appendChild(d);
}

areas.forEach((name, i) => {
  const y = 80 + i * 27.3;
  addDot(780, y, 7.3, siteColors[i][0], i === 0 ? "#777" : siteColors[i][1]);
  addText(name, "item", 805, y);
});

cpueLegend.forEach((v, i) => {
  const y = 254 + i * 27.5;
  addDot(780, y, radiusFor(v), "#fff", "#777");
  addText(String(v), "item", 805, y);
});
</script>
</body>
</html>
